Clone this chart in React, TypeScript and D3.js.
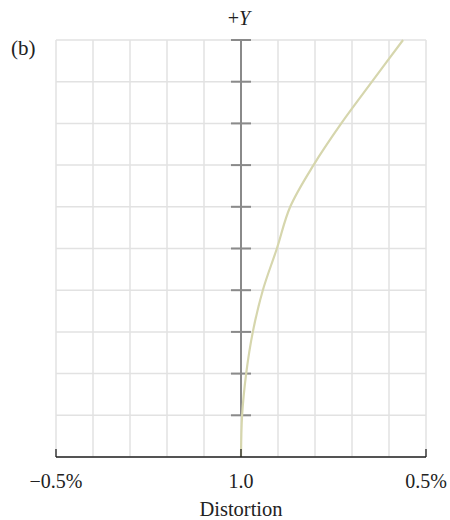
import React from 'react'
import * as d3 from 'd3'

// distortion (%) at each grid row, bottom to top
const rows = [0, 1, 2, 3, 4, 5, 6, 7, 8, 9, 10]
const distortion = [0, 0.003, 0.014, 0.032, 0.059, 0.097, 0.133, 0.196, 0.271, 0.354, 0.438]
const xTicks = [-0.5, 0, 0.5]
const xTickLabels = ['\u22120.5%', '1.0', '0.5%']
const xGrid = d3.range(-0.5, 0.5001, 0.1)
const yGrid = d3.range(0, 11, 1)

const W = 450
const H = 520
const margin = { top: 40, right: 24, bottom: 63, left: 56 }

export default function App() {
	const width = W - margin.left - margin.right
	const height = H - margin.top - margin.bottom

	const x = d3.scaleLinear().domain([-0.5, 0.5]).range([0, width])
	const y = d3.scaleLinear().domain([0, 10]).range([height, 0])

	const line = d3.line<number>()
		.x(d => x(distortion[d]))
		.y(d => y(rows[d]))
		.curve(d3.curveCatmullRom)

	const serif = '"Liberation Serif", "DejaVu Serif", serif'

	return (
		<svg width={W} height={H} style={{ position: 'absolute', left: 0, top: 0, background: '#fff' }}
			fontFamily={serif}>
			<g transform={`translate(${margin.left}, ${margin.top})`}>
				{/* grid */}
				{xGrid.map((v, i) => (
					<line key={'gx' + i} x1={x(v)} x2={x(v)} y1={0} y2={height} stroke="#e2e2e2" strokeWidth={1.5} />
				))}
				{yGrid.map((v, i) => (
					<line key={'gy' + i} x1={0} x2={width} y1={y(v)} y2={y(v)} stroke="#e2e2e2" strokeWidth={1.5} />
				))}

				{/* centre +Y axis */}
				<line x1={x(0)} x2={x(0)} y1={0} y2={y(1)} stroke="#8a8a8a" strokeWidth={2} />
				{yGrid.filter(v => v >= 1).map(v => (
					<line key={'ty' + v} x1={x(0) - 10} x2={x(0) + 10} y1={y(v)} y2={y(v)} stroke="#8a8a8a" strokeWidth={2} />
				))}

				{/* distortion curve */}
				<path d={line(rows.map((_, i) => i)) || ''} fill="none" stroke="#d6d6ad" strokeWidth={2.2} />

				{/* bottom axis */}
				<line x1={0} x2={width} y1={height} y2={height} stroke="#222" strokeWidth={1.3} />
				{xTicks.map((v, i) => (
					<g key={'tx' + i} transform={`translate(${x(v)}, ${height})`}>
						<line y1={-8} y2={0} stroke="#222" strokeWidth={1.3} />
						<text y={31} textAnchor="middle" fontSize={20} fill="#222">{xTickLabels[i]}</text>
					</g>
				))}
				<text x={x(0)} y={height + 59} textAnchor="middle" fontSize={20.5} fill="#222">Distortion</text>
				<text x={x(0) - 2} y={-15} textAnchor="middle" fontSize={20} fill="#222">
					+<tspan fontStyle="italic">Y</tspan>
				</text>
			</g>
			<text x={11} y={55} fontSize={21} fill="#222">(b)</text>
		</svg>
	)
}
